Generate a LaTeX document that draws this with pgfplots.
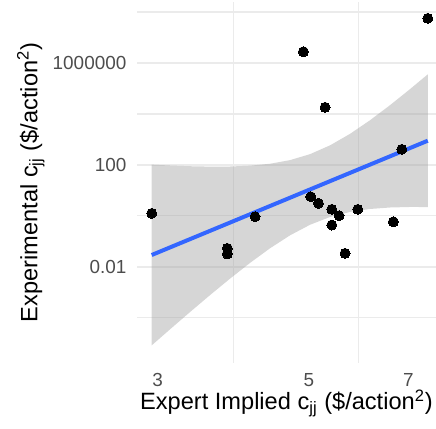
\documentclass[border=0pt]{standalone}
\usepackage{fontspec}
\setmainfont{Liberation Sans}
\usepackage{pgfplots}
\pgfplotsset{compat=1.18}
\definecolor{tickgrey}{HTML}{4D4D4D}
\definecolor{gridgrey}{HTML}{EBEBEB}
\definecolor{smoothblue}{HTML}{3366FF}
\definecolor{bandgrey}{HTML}{999999}

\begin{document}
\begin{tikzpicture}
\begin{axis}[
  name=ax, at={(0,0)}, anchor=south west,
  scale only axis, width=149.5pt, height=180.35pt,
  xmode=log, ymode=log,
  xmin=2.7992, xmax=7.686, ymin=1.696e-6, ymax=2.49e8,
  axis line style={draw=none},
  major tick length=0pt, minor tick length=0pt,
  xtick={3,5,7}, xticklabels={3,5,7},
  minor xtick={3.873,5.916},
  ytick={0.01,100,1000000}, yticklabels={0.01,100,1000000},
  minor ytick={0.0001,1,10000,100000000},
  xmajorgrids=false, xminorgrids=true,
  ymajorgrids=true, yminorgrids=true,
  major grid style={gridgrey, line width=1.1pt},
  minor grid style={gridgrey, line width=0.6pt},
  tick label style={font=\fontsize{9.45}{11}\selectfont, text=tickgrey, inner sep=0pt},
  xticklabel style={yshift=-5.15pt},
  yticklabel style={xshift=-5.15pt},
  label style={font=\fontsize{11.8}{14}\selectfont, inner sep=0pt},
  xlabel={Expert Implied c\textsubscript{jj} (\$/action\textsuperscript{2})},
  ylabel={Experimental c\textsubscript{jj} (\$/action\textsuperscript{2})},
  xlabel style={at={(axis description cs:0.5,-0.1305)}, anchor=base},
  ylabel style={at={(axis description cs:-0.33344,0.5)}, anchor=base},
  /pgf/number format/assume math mode=true,
]
% observations
\addplot[only marks, mark=*, mark size=2.5pt, mark options={fill=black, draw=black, line width=0pt}] coordinates {
  (2.942,1.25) (3.798,0.0528) (3.798,0.0316) (4.171,0.920)
  (4.910,2790000) (5.034,5.61) (5.165,3.09) (5.283,18240)
  (5.404,1.80) (5.404,0.434) (5.539,1.01) (5.652,0.0336)
  (5.900,1.80) (6.654,0.585) (6.846,408) (7.474,57000000)
};
% confidence band (upper edge left to right, lower edge back)
\addplot[draw=none, fill=bandgrey, fill opacity=0.4] coordinates {
  (2.9418,101.9) (3.1294,94.3) (3.3482,88.4) (3.5822,85.3) (3.8326,86.1)
  (4.1004,92.8) (4.3871,110.6) (4.6939,153.4) (5.0219,263.7) (5.3729,584.5)
  (5.7485,1653) (6.1503,5667) (6.5801,22160) (7.0403,94650) (7.4742,358300)
  (7.4742,2.207) (7.0403,2.218) (6.5801,2.115) (6.1503,1.850) (5.7485,1.418)
  (5.3729,0.8973) (5.0219,0.4440) (4.6939,0.1707) (4.3871,0.05295) (4.1004,0.01411)
  (3.8326,0.003396) (3.5822,0.0007664) (3.3482,0.0001655) (3.1294,0.00003468) (2.9418,0.000008143)
};
% fitted line
\addplot[smoothblue, line width=2pt] coordinates {(2.9418,0.0288) (7.4742,889)};
\end{axis}
\pgfresetboundingbox
\path[use as bounding box] ([shift={(-68.5pt,-32.65pt)}]ax.south west) rectangle ([shift={(0pt,1pt)}]ax.north east);
\end{tikzpicture}
\end{document}
